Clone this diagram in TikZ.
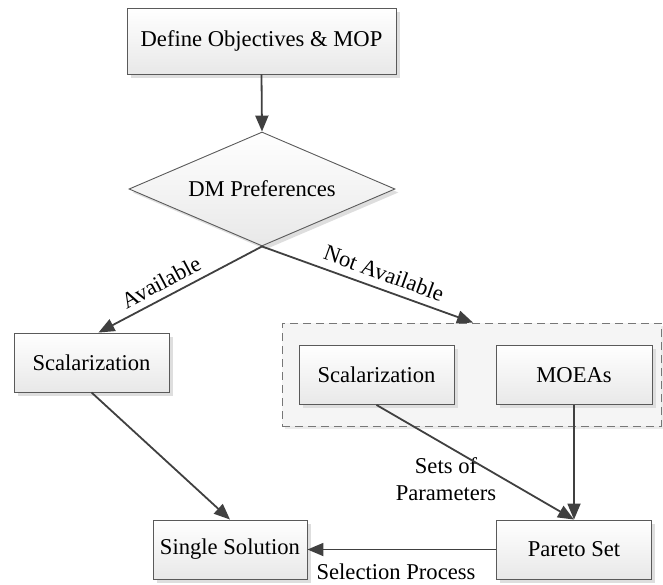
\documentclass[tikz,border=0pt]{standalone}
\usepackage{fontspec}
\setmainfont{Liberation Serif}
\usetikzlibrary{shapes.geometric,arrows.meta,shadows}
\definecolor{lineC}{HTML}{404040}
\definecolor{bordC}{HTML}{5A5A5A}
\definecolor{dashC}{HTML}{777777}
\tikzset{
  every node/.style={font=\fontsize{22.6}{27}\selectfont},
  procbox/.style={rectangle, draw=bordC, line width=0.9pt, top color=white, bottom color=black!9,
    drop shadow={shadow xshift=3.5pt, shadow yshift=-3.5pt, fill=black!13, opacity=1},
    minimum width=155pt, minimum height=59pt, inner sep=0pt},
  decision/.style={diamond, draw=bordC, line width=0.9pt, top color=white, bottom color=black!9,
    drop shadow={shadow xshift=3.5pt, shadow yshift=-3.5pt, fill=black!13, opacity=1},
    minimum width=266pt, minimum height=114pt, inner sep=0pt, aspect=2.33},
  groupbox/.style={rectangle, draw=dashC, line width=0.9pt, dash pattern=on 8pt off 5pt, fill=black!4,
    drop shadow={shadow xshift=3pt, shadow yshift=-3pt, fill=black!8, opacity=1},
    minimum width=379pt, minimum height=103pt, inner sep=0pt},
  flow/.style={draw=lineC, line width=1.8pt, -{Triangle[length=16pt,width=13pt]}},
  lbl/.style={inner sep=0pt}
}
\begin{document}
\begin{tikzpicture}[x=1pt,y=-1pt]
\useasboundingbox (0,0) rectangle (663,584);
% nodes
\node[procbox, minimum width=269pt, minimum height=66pt] (top) at (261.5,41) {Define Objectives \& MOP};
\node[decision] (dm) at (262,189) {DM Preferences};
\node[procbox] (scalL) at (91.5,362.5) {Scalarization};
\node[groupbox] (grp) at (471.5,374.5) {};
\node[procbox] (scalR) at (376.5,375) {Scalarization};
\node[procbox, minimum width=156pt] (moea) at (574,375) {MOEAs};
\node[procbox, minimum width=154pt] (single) at (230,549.5) {Single Solution};
\node[procbox] (pareto) at (574,549.5) {Pareto Set};
% labels
\node[lbl, rotate=28] (lavail) at (161,282) {Available};
\node[lbl, rotate=-20] (lnot) at (384,273) {Not Available};
\node[lbl, align=center] (lsets) at (446,479) {Sets of\\Parameters};
\node[lbl] (lsel) at (396,572) {Selection Process};
% connectors
\draw[flow] (top.south) -- (dm.north);
\draw[flow] (dm.south) -- ([xshift=7pt]scalL.north);
\draw[flow] (dm.south) -- ([xshift=1.5pt]grp.north);
\draw[flow] (scalL.south) -- (single.north);
\draw[flow] (scalR.south) -- (pareto.north);
\draw[flow] (moea.south) -- (pareto.north);
\draw[flow] (pareto.west) -- (single.east);
\end{tikzpicture}
\end{document}
